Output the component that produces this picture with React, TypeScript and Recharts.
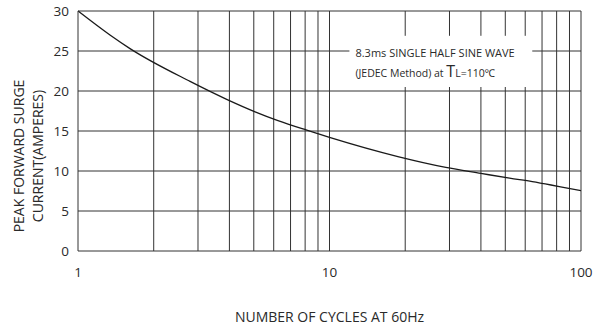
import React from "react";
import {
  LineChart,
  Line,
  XAxis,
  YAxis,
  ReferenceLine,
  ReferenceArea,
} from "recharts";

// curve (cycles -> peak surge current, A)
const cycles = [1, 1.34, 1.61, 2.79, 3.9, 5.06, 6.24, 8.12, 10, 18.7, 29, 40, 52, 64, 76, 85, 100];
const amperes = [30, 27.0, 25.3, 21.2, 18.96, 17.4, 16.3, 15.1, 14.2, 11.8, 10.45, 9.7, 9.1, 8.67, 8.25, 7.96, 7.54];

const xTicks = [1, 10, 100];
const yTicks = [0, 5, 10, 15, 20, 25, 30];
const xGrid = [2, 3, 4, 5, 6, 7, 8, 9, 10, 20, 30, 40, 50, 60, 70, 80, 90, 100];
const yGrid = [5, 10, 15, 20, 25, 30];

// note box (in data units) where the grid is interrupted
const noteX = [12, 64];
const noteY = [20.5, 26.9];

const data = cycles.map((c, i) => ({ cycles: c, amps: amperes[i] }));

const FONT = "'Open Sans', 'Noto Sans', sans-serif";
const TEXT = "#2a2a2a";
const GRID = "#333";

function YLabel(props: any) {
  const { viewBox } = props;
  const cy = viewBox.y + viewBox.height / 2 + 25;
  return (
    <g fontFamily={FONT} fontSize={14} fill={TEXT}>
      <text x={18} y={cy} transform={`rotate(-90 18 ${cy})`} textAnchor="middle" dominantBaseline="central">
        PEAK FORWARD SURGE
      </text>
      <text x={37} y={cy} transform={`rotate(-90 37 ${cy})`} textAnchor="middle" dominantBaseline="central">
        CURRENT(AMPERES)
      </text>
    </g>
  );
}

function NoteLabel(props: any) {
  const { viewBox } = props;
  const x = viewBox.x + 6;
  const y = viewBox.y;
  return (
    <g fontFamily={FONT} fill={TEXT}>
      <text x={x} y={y + 21} fontSize={11}>8.3ms SINGLE HALF SINE WAVE</text>
      <text x={x} y={y + 41} fontSize={10.5}>
        (JEDEC Method) at <tspan fontSize={16}>T</tspan>L=110℃
      </text>
    </g>
  );
}

export default function App() {
  return (
    <div style={{ position: "absolute", left: 0, top: 0, width: 613, height: 329, background: "#fff" }}>
      <LineChart width={613} height={329} data={data} margin={{ top: 11, right: 32, left: 0, bottom: 0 }}>
        {xGrid.map((v) =>
          v > noteX[0] && v < noteX[1] ? (
            <React.Fragment key={"x" + v}>
              <ReferenceLine segment={[{ x: v, y: 0 }, { x: v, y: noteY[0] }]} stroke={GRID} />
              <ReferenceLine segment={[{ x: v, y: noteY[1] }, { x: v, y: 30 }]} stroke={GRID} />
            </React.Fragment>
          ) : (
            <ReferenceLine key={"x" + v} x={v} stroke={GRID} />
          )
        )}
        {yGrid.map((v) =>
          v > noteY[0] && v < noteY[1] ? (
            <React.Fragment key={"y" + v}>
              <ReferenceLine segment={[{ x: 1, y: v }, { x: noteX[0], y: v }]} stroke={GRID} />
              <ReferenceLine segment={[{ x: noteX[1], y: v }, { x: 100, y: v }]} stroke={GRID} />
            </React.Fragment>
          ) : (
            <ReferenceLine key={"y" + v} y={v} stroke={GRID} />
          )
        )}
        <ReferenceArea
          x1={noteX[0]}
          x2={noteX[1]}
          y1={noteY[0]}
          y2={noteY[1]}
          fill="none"
          stroke="none"
          label={<NoteLabel />}
        />
        <XAxis
          dataKey="cycles"
          type="number"
          scale="log"
          domain={[1, 100]}
          ticks={xTicks}
          allowDataOverflow
          height={78}
          tickLine={false}
          axisLine={{ stroke: GRID }}
          tick={{ fontSize: 13.5, fill: TEXT, fontFamily: FONT, dy: 8 }}
          label={{
            value: "NUMBER OF CYCLES AT 60Hz",
            position: "insideBottom",
            offset: 7,
            fontSize: 14,
            fill: TEXT,
            fontFamily: FONT,
          }}
        />
        <YAxis
          type="number"
          domain={[0, 30]}
          ticks={yTicks}
          width={78}
          tickLine={false}
          axisLine={{ stroke: GRID }}
          tick={{ fontSize: 13.5, fill: TEXT, fontFamily: FONT, dx: -1 }}
          label={<YLabel />}
        />
        <Line
          type="monotone"
          dataKey="amps"
          stroke="#1a1a1a"
          strokeWidth={1.3}
          dot={false}
          isAnimationActive={false}
        />
      </LineChart>
    </div>
  );
}
